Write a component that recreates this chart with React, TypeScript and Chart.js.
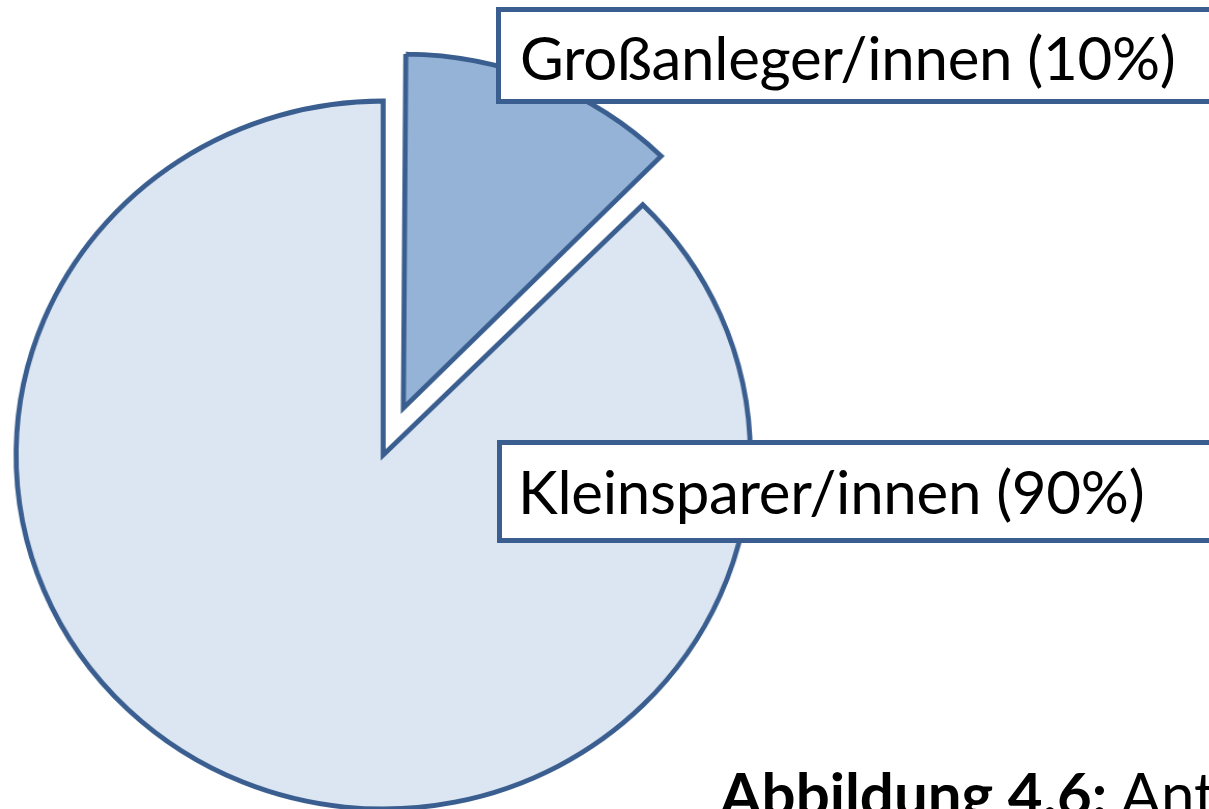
import React, { useEffect, useRef } from "react";
import { Chart, registerables } from "chart.js";

Chart.register(...registerables);

// ---- data ----
const categories = ["Großanleger/innen", "Kleinsparer/innen"];
const statedPercent = [10, 90]; // percentages printed in the label boxes
const drawnShares = [12.5, 87.5]; // slice sizes as drawn in the picture (45° wedge)
const captionBold = "Abbildung 4.6:";
const captionRest = "Ant";

const BORDER = "#395E8F";
const FONT = "Lato, 'Open Sans', sans-serif";

// Keep the exploded wedge at the same radius as the rest of the pie
const explodeRadiusFix = {
  id: "explodeRadiusFix",
  afterDatasetsUpdate(chart: any) {
    const meta = chart.getDatasetMeta(0);
    meta.data.forEach((arc: any) => {
      const off = ((arc.options && arc.options.offset) || 0) / 4;
      const fix = 1 - Math.sin(Math.min(Math.PI, arc.circumference || 0));
      arc.outerRadius = arc.outerRadius - off * fix;
    });
  },
};

function PieCanvas() {
  const ref = useRef<HTMLCanvasElement | null>(null);
  useEffect(() => {
    if (!ref.current) return;
    const chart = new Chart(ref.current, {
      type: "pie",
      data: {
        labels: categories,
        datasets: [
          {
            data: drawnShares,
            backgroundColor: ["#95B3D7", "#DCE6F2"],
            borderColor: BORDER,
            borderWidth: 4.8,
            borderJoinStyle: "miter",
            offset: [203, 0],
            hoverOffset: 0,
          } as any,
        ],
      },
      options: {
        responsive: false,
        maintainAspectRatio: false,
        animation: false,
        events: [],
        radius: 354,
        layout: { padding: 0 },
        plugins: {
          legend: { display: false },
          tooltip: { enabled: false },
          title: { display: false },
        },
      } as any,
      plugins: [explodeRadiusFix],
    });
    return () => chart.destroy();
  }, []);
  return <canvas ref={ref} width={739} height={910} style={{ display: "block" }} />;
}

function LabelBox(props: { left: number; top: number; height: number; text: string; textLeft: number; baseline: number }) {
  const fs = 60;
  return (
    <>
      <div
        style={{
          position: "absolute",
          left: props.left,
          top: props.top,
          width: 900,
          height: props.height,
          boxSizing: "border-box",
          border: `5px solid ${BORDER}`,
          background: "#FFFFFF",
        }}
      />
      <div
        style={{
          position: "absolute",
          left: props.textLeft,
          top: props.baseline - 0.887 * fs,
          fontFamily: FONT,
          fontSize: fs,
          lineHeight: 1,
          whiteSpace: "nowrap",
          color: "#000",
          letterSpacing: -0.3,
        }}
      >
        {props.text}
      </div>
    </>
  );
}

export default function App() {
  const capFs = 60;
  return (
    <div
      style={{
        position: "fixed",
        left: 0,
        top: 0,
        width: 1209,
        height: 809,
        overflow: "hidden",
        background: "#FFFFFF",
      }}
    >
      <div style={{ position: "absolute", left: 0, top: 0, transform: "scaleX(1.037)", transformOrigin: "0 0" }}>
        <PieCanvas />
      </div>
      <LabelBox left={496} top={7} height={97} textLeft={520} baseline={80} text={`${categories[0]} (${statedPercent[0]}%)`} />
      <LabelBox left={497} top={440} height={103} textLeft={518} baseline={514} text={`${categories[1]} (${statedPercent[1]}%)`} />
      <div
        style={{
          position: "absolute",
          left: 720,
          top: 816 - 0.887 * capFs,
          fontFamily: FONT,
          fontSize: capFs,
          lineHeight: 1,
          whiteSpace: "nowrap",
          color: "#000",
        }}
      >
        <span style={{ fontWeight: 700 }}>{captionBold}</span> {captionRest}
      </div>
    </div>
  );
}
